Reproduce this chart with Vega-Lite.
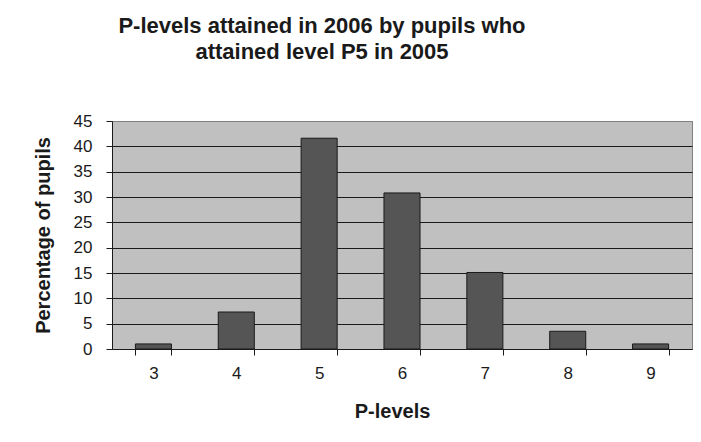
{
  "$schema": "https://vega.github.io/schema/vega-lite/v6.json",
  "width": 580,
  "height": 228,
  "autosize": {"type": "none"},
  "padding": {"left": 112, "top": 121, "right": 9, "bottom": 93},
  "background": "white",
  "title": {
    "text": ["P-levels attained in 2006 by pupils who", "attained level P5 in 2005"],
    "anchor": "start",
    "align": "center",
    "dx": 210,
    "frame": "group",
    "font": "Liberation Sans",
    "fontSize": 22,
    "fontWeight": "bold",
    "color": "#1a1a1a",
    "lineHeight": 26,
    "baseline": "alphabetic",
    "offset": 31
  },
  "data": {
    "values": [
      {"level": "3", "pct": 1.0},
      {"level": "4", "pct": 7.3},
      {"level": "5", "pct": 41.6},
      {"level": "6", "pct": 30.8},
      {"level": "7", "pct": 15.1},
      {"level": "8", "pct": 3.5},
      {"level": "9", "pct": 1.0}
    ]
  },
  "mark": {"type": "bar", "fill": "#555555", "stroke": "#1a1a1a", "strokeWidth": 1},
  "encoding": {
    "x": {
      "field": "level",
      "type": "ordinal",
      "sort": null,
      "scale": {"paddingInner": 0.565, "paddingOuter": 0.2825},
      "axis": {
        "title": "P-levels",
        "labelAngle": 0,
        "tickBand": "extent",
        "tickSize": 6,
        "labelPadding": 10,
        "labelFontSize": 17,
        "labelFont": "Liberation Sans",
        "labelColor": "#1a1a1a",
        "domainColor": "#1a1a1a",
        "tickColor": "#1a1a1a",
        "grid": false,
        "titleFont": "Liberation Sans",
        "titleFontSize": 20,
        "titleFontWeight": "bold",
        "titleColor": "#1a1a1a",
        "titleX": 280,
        "titleY": 68,
        "titleAlign": "center",
        "titleBaseline": "alphabetic"
      }
    },
    "y": {
      "field": "pct",
      "type": "quantitative",
      "scale": {"domain": [0, 45], "nice": false},
      "axis": {
        "title": "Percentage of pupils",
        "values": [0, 5, 10, 15, 20, 25, 30, 35, 40, 45],
        "tickSize": 6,
        "labelPadding": 14,
        "labelFontSize": 17,
        "labelFont": "Liberation Sans",
        "labelColor": "#1a1a1a",
        "domainColor": "#1a1a1a",
        "tickColor": "#1a1a1a",
        "grid": true,
        "gridColor": {"condition": {"test": "datum.value == 45", "value": "#808080"}, "value": "#1a1a1a"},
        "gridOpacity": 1,
        "titleFont": "Liberation Sans",
        "titleFontSize": 20,
        "titleFontWeight": "bold",
        "titleColor": "#1a1a1a",
        "titleAngle": -90,
        "titleX": -63,
        "titleY": 114,
        "titleAlign": "center",
        "titleBaseline": "alphabetic"
      }
    }
  },
  "config": {
    "view": {"fill": "#c0c0c0", "stroke": "#808080", "strokeWidth": 1}
  }
}
